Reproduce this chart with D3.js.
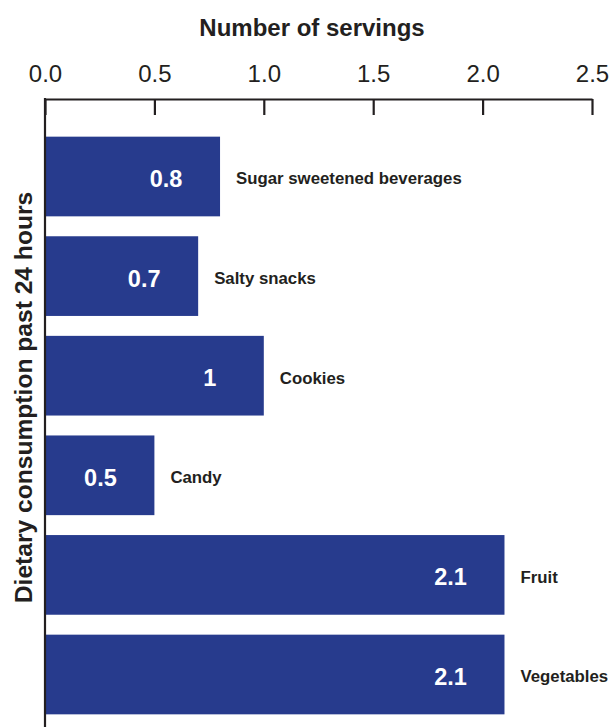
<!DOCTYPE html>
<html>
<head>
<meta charset="utf-8">
<script src="https://cdn.jsdelivr.net/npm/d3@7"></script>
<style>
  html, body { margin: 0; padding: 0; background: #ffffff; }
  svg { display: block; font-family: "Liberation Sans", Arial, Helvetica, sans-serif; }
</style>
</head>
<body>
<svg id="chart" width="613" height="727"></svg>
<script>
// Food categories and average servings in the past 24 hours
const categories = ["Sugar sweetened beverages", "Salty snacks", "Cookies", "Candy", "Fruit", "Vegetables"];
const servings = [0.8, 0.7, 1, 0.5, 2.1, 2.1];
const valueLabels = ["0.8", "0.7", "1", "0.5", "2.1", "2.1"];
const xTicks = [0, 0.5, 1, 1.5, 2, 2.5];

const ink = "#231f20";
const barColor = "#273b8d";

const svg = d3.select("#chart");

const axisY = 99;
const x = d3.scaleLinear().domain([0, 2.5]).range([45, 592]);
const y = d3.scaleBand()
  .domain(categories)
  .range([126.7, 724.3])
  .paddingInner(0.2)
  .paddingOuter(0.1);

// Bars
svg.append("g")
  .selectAll("rect")
  .data(categories)
  .join("rect")
  .attr("x", x(0))
  .attr("y", d => y(d))
  .attr("width", (d, i) => x(servings[i]) - x(0))
  .attr("height", y.bandwidth())
  .attr("fill", barColor);

// Value labels inside the bars
svg.append("g")
  .selectAll("text")
  .data(categories)
  .join("text")
  .attr("x", (d, i) => x(servings[i]) - 54)
  .attr("y", d => y(d) + y.bandwidth() / 2 + 10.5)
  .attr("text-anchor", "middle")
  .attr("fill", "#ffffff")
  .attr("font-weight", "bold")
  .attr("font-size", 23.5)
  .text((d, i) => valueLabels[i]);

// Category names to the right of each bar
svg.append("g")
  .selectAll("text")
  .data(categories)
  .join("text")
  .attr("x", (d, i) => x(servings[i]) + 16)
  .attr("y", d => y(d) + y.bandwidth() / 2 + 7.8)
  .attr("fill", ink)
  .attr("font-weight", "bold")
  .attr("font-size", 16.8)
  .text(d => d);

// Top axis with ticks pointing into the plot
const xAxis = d3.axisTop(x)
  .tickValues(xTicks)
  .tickFormat(d3.format(".1f"))
  .tickSizeInner(-16)
  .tickSizeOuter(0)
  .tickPadding(17);

const gx = svg.append("g")
  .attr("transform", `translate(0,${axisY})`)
  .call(xAxis);
gx.select(".domain").attr("stroke", ink).attr("stroke-width", 2.2);
gx.selectAll(".tick line").attr("stroke", ink).attr("stroke-width", 2.2);
gx.selectAll(".tick text")
  .attr("fill", ink)
  .attr("font-size", 24)
  .attr("font-family", "\"Liberation Sans\", Arial, Helvetica, sans-serif");

// Left baseline running down the full height
svg.append("line")
  .attr("x1", x(0)).attr("x2", x(0))
  .attr("y1", axisY - 1.1).attr("y2", 727)
  .attr("stroke", ink)
  .attr("stroke-width", 2.2);

// Axis titles
svg.append("text")
  .attr("x", 312)
  .attr("y", 36)
  .attr("text-anchor", "middle")
  .attr("fill", ink)
  .attr("font-weight", "bold")
  .attr("font-size", 24)
  .text("Number of servings");

svg.append("text")
  .attr("transform", "translate(32,397.5) rotate(-90)")
  .attr("text-anchor", "middle")
  .attr("fill", ink)
  .attr("font-weight", "bold")
  .attr("font-size", 24.6)
  .text("Dietary consumption past 24 hours");
</script>
</body>
</html>
